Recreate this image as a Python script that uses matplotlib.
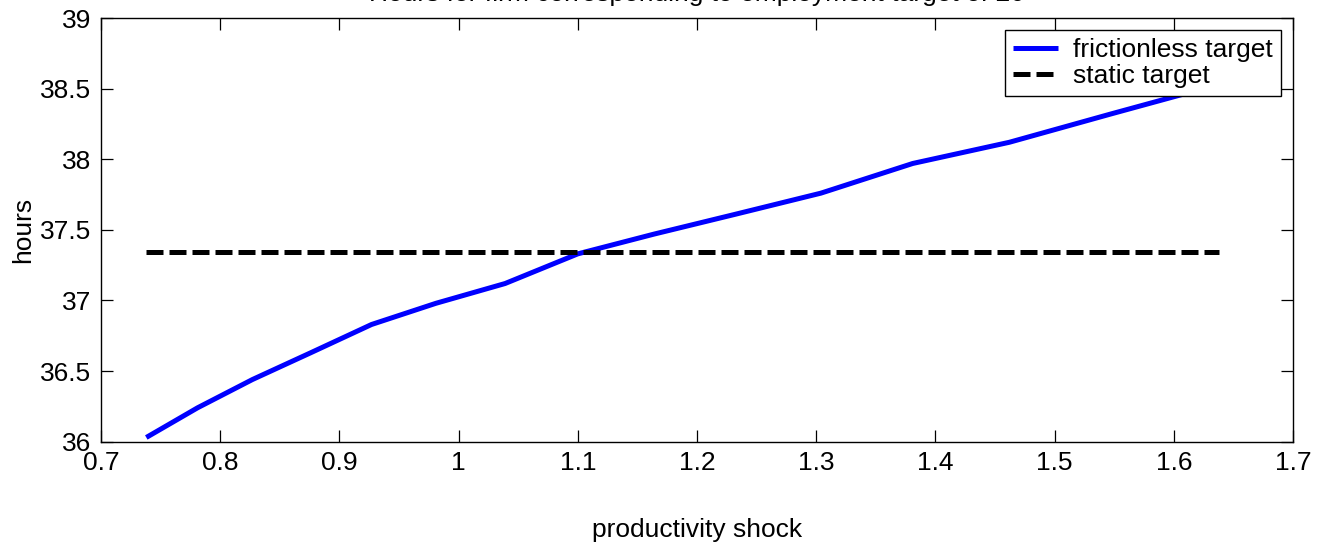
import matplotlib
matplotlib.use("Agg")
import matplotlib.pyplot as plt

# data
shock = [0.738, 0.781, 0.827, 0.876, 0.927, 0.981, 1.039, 1.100, 1.164,
         1.232, 1.304, 1.381, 1.462, 1.547, 1.638]
frictionless = [36.03, 36.24, 36.44, 36.63, 36.83, 36.98, 37.12, 37.33, 37.47,
                 37.61, 37.76, 37.97, 38.12, 38.32, 38.53]
static_level = 37.345
static = [static_level] * len(shock)

xticks = [0.7, 0.8, 0.9, 1.0, 1.1, 1.2, 1.3, 1.4, 1.5, 1.6, 1.7]
xticklabels = ["0.7", "0.8", "0.9", "1", "1.1", "1.2", "1.3", "1.4", "1.5", "1.6", "1.7"]
yticks = [36, 36.5, 37, 37.5, 38, 38.5, 39]
yticklabels = ["36", "36.5", "37", "37.5", "38", "38.5", "39"]
title = "Hours for firm corresponding to employment target of 20"

plt.rcParams['font.family'] = ['Liberation Sans', 'DejaVu Sans']
fs = 19

fig = plt.figure(figsize=(13.23, 5.56), dpi=100)
ax = fig.add_axes([101/1323, 1 - 441.7/556, 1192/1323, 423.7/556])

ax.plot(shock, frictionless, color='#0000ff', lw=3.6, label='frictionless target',
        solid_capstyle='butt')
ax.plot(shock, static, color='black', lw=3.6, linestyle=(0, (3.4, 1.2)),
        label='static target', dash_capstyle='butt')

ax.set_xlim(0.7, 1.7)
ax.set_ylim(36, 39)
ax.set_xticks(xticks)
ax.set_xticklabels(xticklabels)
ax.set_yticks(yticks)
ax.set_yticklabels(yticklabels)
ax.tick_params(direction='in', length=8.6, width=0.9, labelsize=fs,
               top=True, right=True, pad=7)
for s in ax.spines.values():
    s.set_linewidth(1.0)

ax.set_xlabel('productivity shock', fontsize=fs)
ax.xaxis.set_label_coords(0.5, -0.18)
ax.set_ylabel('hours', fontsize=fs)
ax.yaxis.set_label_coords(-0.055, 0.5)

ax.set_title(title, fontsize=fs, y=1.040, pad=0)

leg = ax.legend(loc='upper right', fontsize=fs, frameon=True, fancybox=False,
                edgecolor='black', framealpha=1, borderpad=0.3, handlelength=1.7,
                handletextpad=0.6, labelspacing=0.1, borderaxespad=0.45)
leg.get_frame().set_linewidth(1.0)

fig.savefig('out.png', dpi=100)
